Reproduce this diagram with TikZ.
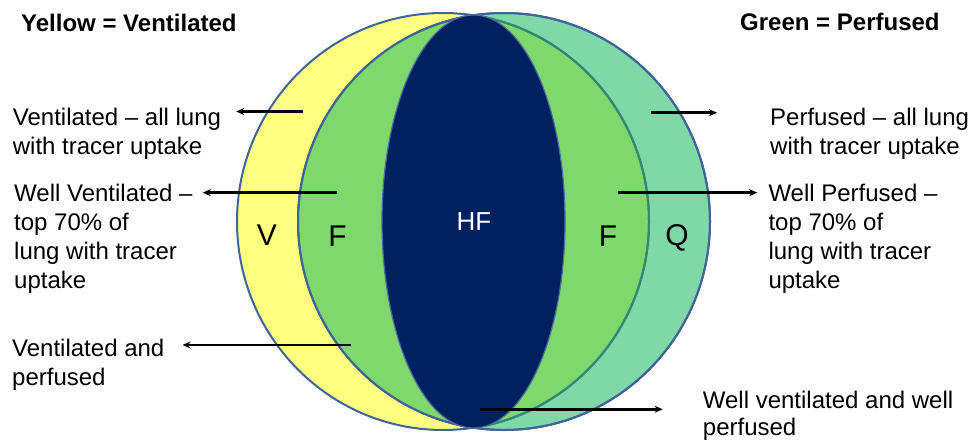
\documentclass[tikz,border=0pt]{standalone}
\usepackage{fontspec}
\setmainfont{Liberation Sans}
\usetikzlibrary{arrows.meta,calc}
\definecolor{yel}{HTML}{FFFF80}
\definecolor{lgreen}{HTML}{7FD86B}
\definecolor{teal}{HTML}{80D8A9}
\definecolor{navy}{HTML}{002060}
\definecolor{oblue}{HTML}{3F6598}
\definecolor{tline}{HTML}{2F8A70}
\definecolor{nline}{HTML}{4A6AA0}
\tikzset{
  lbl/.style={font=\fontsize{24}{29}\selectfont, inner sep=0pt, align=left, anchor=base west},
  ttl/.style={font=\fontsize{24}{29}\selectfont\bfseries, inner sep=0pt, anchor=base west},
  zone/.style={font=\fontsize{30}{34}\selectfont, inner sep=0pt, anchor=base},
  conn/.style={-{Stealth[length=8pt,width=7pt]}, line width=2.6pt, black},
}
\begin{document}
\begin{tikzpicture}[x=1pt,y=-1pt]
\useasboundingbox (0,0) rectangle (976,441);
% circles
\def\ycirc{(443,221.5) ellipse [x radius=206, y radius=208.5]}
\def\gcirc{(504,221.5) ellipse [x radius=206, y radius=208.5]}
\fill[yel] \ycirc;
\fill[teal] \gcirc;
\begin{scope}
  \clip \ycirc;
  \fill[lgreen] \gcirc;
\end{scope}
\draw[oblue, line width=2pt] \ycirc;
\draw[oblue, line width=2pt] \gcirc;
\begin{scope}
  \clip \gcirc;
  \draw[tline, line width=2pt] \ycirc;
\end{scope}
\draw[oblue, line width=2pt] \gcirc;
\fill[navy, draw=nline, line width=1.2pt] (473.5,221.5) ellipse [x radius=91.5, y radius=206.5];
% zone letters
\node[zone] (zV) at (267,245) {V};
\node[zone] (zF1) at (337.5,246) {F};
\node[zone, white, font=\fontsize{26}{30}\selectfont] (zHF) at (474,230.7) {HF};
\node[zone] (zF2) at (608,246) {F};
\node[zone] (zQ) at (677,245) {Q};
% titles
\node[ttl] (tY) at (21,31.5) {Yellow = Ventilated};
\node[ttl] (tG) at (740,30.5) {Green = Perfused};
% labels (base anchor = baseline of last line)
\node[lbl] (L1) at (12.7,154) {Ventilated – all lung\\with tracer uptake};
\node[lbl] (L2) at (14,288.7) {Well Ventilated –\\top 70\% of\\lung with tracer\\uptake};
\node[lbl] (L3) at (12,385) {Ventilated and\\perfused};
\node[lbl] (R1) at (770,154) {Perfused – all lung\\with tracer uptake};
\node[lbl] (R2) at (768.3,288.7) {Well Perfused –\\top 70\% of\\lung with tracer\\uptake};
\node[lbl, font=\fontsize{24}{27}\selectfont] (R3) at (702.7,435.5) {Well ventilated and well\\perfused};
% arrow tails
\coordinate (a1) at (303,111.5);
\coordinate (a2) at (337,192.7);
\coordinate (a3) at (351,345);
\coordinate (b1) at (650.7,112.7);
\coordinate (b2) at (617.7,192.7);
\coordinate (b3) at (480,409.3);
% arrows
\draw[conn] (a1) -- ($(a1 -| L1.east)+(15,0)$);
\draw[conn] (a2) -- ($(a2 -| L2.east)+(10,0)$);
\draw[conn] (a3) -- ($(a3 -| L3.east)+(18,0)$);
\draw[conn] (b1) -- ($(b1 -| R1.west)+(-53,0)$);
\draw[conn] (b2) -- ($(b2 -| R2.west)+(-11,0)$);
\draw[conn] (b3) -- ($(b3 -| R3.west)+(-40,0)$);
\end{tikzpicture}
\end{document}
